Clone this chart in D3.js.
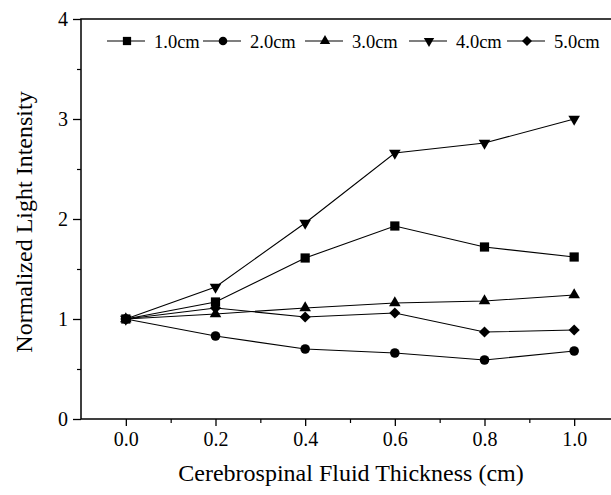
<!DOCTYPE html>
<html><head><meta charset="utf-8">
<script src="https://cdn.jsdelivr.net/npm/d3@7"></script>
<style>
html,body{margin:0;padding:0;background:#fff;}
svg{display:block;font-family:"Liberation Serif","Times New Roman",serif;}
</style></head>
<body>
<svg id="chart" width="611" height="495"></svg>
<script>
const thickness = [0.0, 0.2, 0.4, 0.6, 0.8, 1.0];
const seriesNames = ["1.0cm", "2.0cm", "3.0cm", "4.0cm", "5.0cm"];
const s1 = [1.0, 1.17, 1.61, 1.93, 1.72, 1.62];
const s2 = [1.0, 0.83, 0.70, 0.66, 0.59, 0.68];
const s3 = [1.0, 1.05, 1.11, 1.16, 1.18, 1.24];
const s4 = [1.0, 1.32, 1.96, 2.66, 2.76, 3.00];
const s5 = [1.0, 1.11, 1.02, 1.06, 0.87, 0.89];
const seriesValues = [s1, s2, s3, s4, s5];
const markerTypes = ["square", "circle", "triangle", "triangleDown", "diamond"];
const xTicks = [0.0, 0.2, 0.4, 0.6, 0.8, 1.0];
const yTicks = [0, 1, 2, 3, 4];
const xTitle = "Cerebrospinal Fluid Thickness (cm)";
const yTitle = "Normalized Light Intensity";

(function () {
const svg = d3.select("#chart");
const pLeft = 81, pTop = 19, pBottom = 419, pRight = 619;
const x = d3.scaleLinear().domain([-0.1, 1.1]).range([pLeft, pRight]);
const y = d3.scaleLinear().domain([0, 4]).range([pBottom, pTop]);

function symbolPath(type, k) {
  k = k || 1;
  switch (type) {
    case "square": return {d: d3.symbol(d3.symbolSquare, 85 * k)(), rot: 0};
    case "circle": return {d: d3.symbol(d3.symbolCircle, 72 * k)(), rot: 0};
    case "triangle": return {d: d3.symbol(d3.symbolTriangle, 58 * k)(), rot: 0};
    case "triangleDown": return {d: d3.symbol(d3.symbolTriangle, 58 * k)(), rot: 180};
    case "diamond": return {d: d3.symbol(d3.symbolSquare, 62 * k)(), rot: 45};
  }
}

// frame
svg.append("rect").attr("x", pLeft).attr("y", pTop)
  .attr("width", pRight - pLeft).attr("height", pBottom - pTop)
  .attr("fill", "none").attr("stroke", "#000").attr("stroke-width", 1.5);

// x axis
const xAxis = d3.axisBottom(x).tickValues(xTicks).tickFormat(d3.format(".1f"))
  .tickSize(7).tickPadding(6);
const gx = svg.append("g").attr("transform", `translate(0,${pBottom})`).call(xAxis);
gx.select(".domain").remove();
gx.selectAll("line").attr("stroke-width", 1.3);
gx.selectAll("text").attr("font-size", 20).attr("font-family", "Liberation Serif").attr("fill", "#000");
const xMinor = d3.axisBottom(x).tickValues([0.1, 0.3, 0.5, 0.7, 0.9]).tickSize(4).tickFormat("");
const gxm = svg.append("g").attr("transform", `translate(0,${pBottom})`).call(xMinor);
gxm.select(".domain").remove();
gxm.selectAll("line").attr("stroke-width", 1.2);

// y axis
const yAxis = d3.axisLeft(y).tickValues(yTicks).tickFormat(d3.format("d"))
  .tickSize(8).tickPadding(5);
const gy = svg.append("g").attr("transform", `translate(${pLeft},0)`).call(yAxis);
gy.select(".domain").remove();
gy.selectAll("line").attr("stroke-width", 1.3);
gy.selectAll("text").attr("font-size", 20).attr("font-family", "Liberation Serif").attr("fill", "#000");
const yMinor = d3.axisLeft(y).tickValues([0.5, 1.5, 2.5, 3.5]).tickSize(4).tickFormat("");
const gym = svg.append("g").attr("transform", `translate(${pLeft},0)`).call(yMinor);
gym.select(".domain").remove();
gym.selectAll("line").attr("stroke-width", 1.2);

// titles
svg.append("text").attr("x", 351).attr("y", 481).attr("text-anchor", "middle")
  .attr("font-size", 24).text(xTitle);
svg.append("text").attr("transform", "translate(32,222) rotate(-90)")
  .attr("text-anchor", "middle").attr("font-size", 24).text(yTitle);

// lines
const line = d3.line().x((d, i) => x(thickness[i])).y(d => y(d));
seriesValues.forEach((vals) => {
  svg.append("path").datum(vals).attr("d", line)
    .attr("fill", "none").attr("stroke", "#000").attr("stroke-width", 1.1);
});
seriesValues.forEach((vals, si) => {
  const sp = symbolPath(markerTypes[si]);
  svg.append("g").selectAll("path").data(vals).join("path")
    .attr("d", sp.d)
    .attr("transform", (d, i) => `translate(${x(thickness[i])},${y(d)}) rotate(${sp.rot})`)
    .attr("fill", "#000");
});

// legend
const legendX = [107, 203, 305, 409, 507];
const legendY = 41;
seriesNames.forEach((name, si) => {
  const g = svg.append("g").attr("transform", `translate(${legendX[si]},${legendY})`);
  g.append("line").attr("x1", 0).attr("x2", 38).attr("y1", 0).attr("y2", 0)
    .attr("stroke", "#000").attr("stroke-width", 1.1);
  const sp = symbolPath(markerTypes[si], 0.8);
  g.append("path").attr("d", sp.d).attr("transform", `translate(20,0) rotate(${sp.rot})`).attr("fill", "#000");
  g.append("text").attr("x", 47).attr("y", 6.5).attr("font-size", 18.5).text(name);
});
})();
</script>
</body></html>
